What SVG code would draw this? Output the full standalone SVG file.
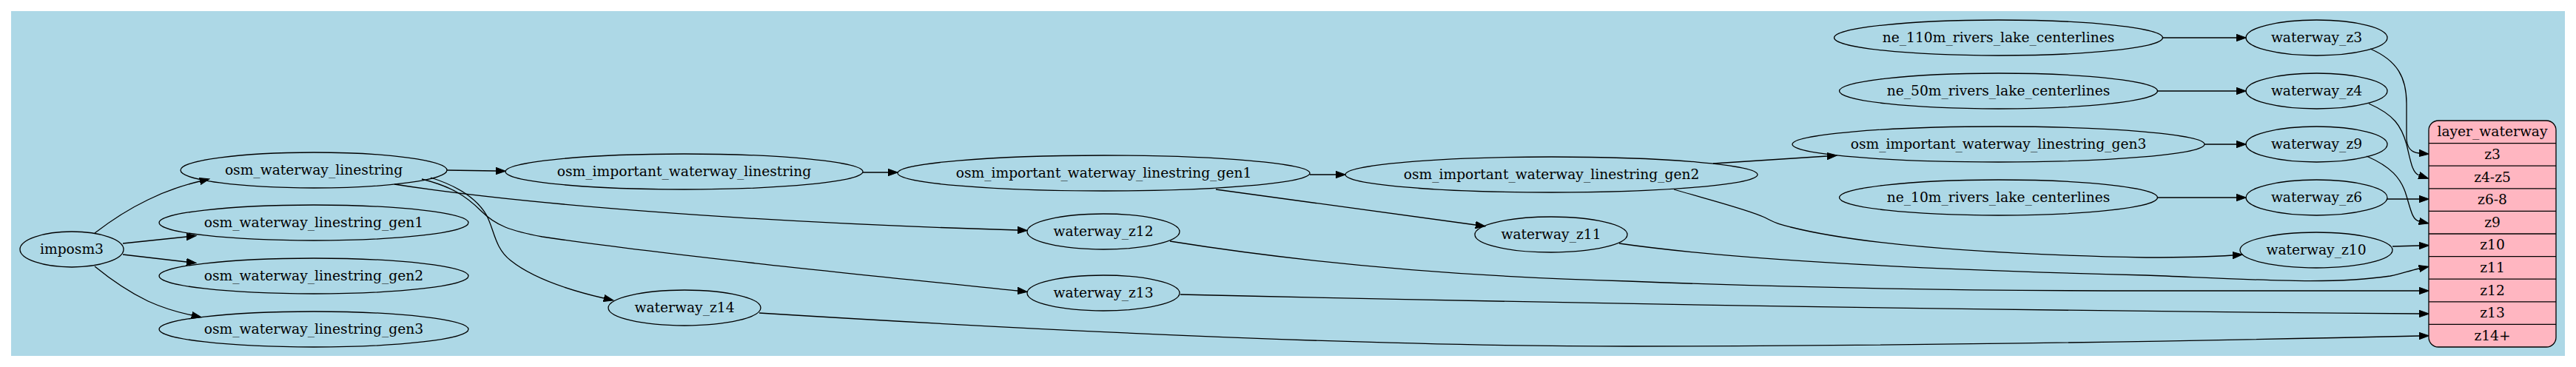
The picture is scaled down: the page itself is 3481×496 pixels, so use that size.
<svg xmlns="http://www.w3.org/2000/svg" width="3481" height="496" viewBox="0 0 3481 496">
<defs>
<style>
.n ellipse{fill:none;stroke:#000;stroke-width:1.3}
text{font-family:"DejaVu Serif","Liberation Serif",serif;font-size:18.67px;fill:#000;text-anchor:middle}
.e path{fill:none;stroke:#000;stroke-width:1.3;marker-end:url(#ah)}
.rec{fill:#ffb6c1;stroke:#000;stroke-width:1.3}
.div{stroke:#000;stroke-width:1.3}
</style>
<marker id="ah" viewBox="0 0 14 10" refX="0" refY="5" markerWidth="14" markerHeight="10" markerUnits="userSpaceOnUse" orient="auto">
<path d="M0,0.3 L13.3,5 L0,9.7 Z" fill="#000" stroke="#000" stroke-width="1"/>
</marker>
</defs>
<rect x="0" y="0" width="3481" height="496" fill="#fff"/>
<rect x="15" y="15" width="3451" height="466" fill="#add8e6"/>

<g id="edges" class="e">
<path d="M128,315 C150,298 175,282 200,270 C222,259 245,251 270,245"/>
<path d="M166,329 L252,320"/>
<path d="M166,344 L252,354"/>
<path d="M128,360 C150,378 175,395 200,407 C222,417 240,422 259,426"/>
<path d="M604,230 L670,231"/>
<path d="M533,249 C700,275 1000,300 1375,311"/>
<path d="M570,242 C610,252 630,265 650,285 C670,305 690,312 733,320 C900,345 1200,375 1375,393"/>
<path d="M582,240 C620,252 645,270 657,290 C668,310 668,335 690,352 C715,372 760,390 816,403"/>
<path d="M1166,233 L1200,233"/>
<path d="M1770,236 L1805,236"/>
<path d="M1643,256 L1994,304"/>
<path d="M2315,221 L2469,211"/>
<path d="M2262,256 C2310,270 2365,284 2385,294 C2400,302 2405,303 2420,307 C2480,322 2600,342 2900,348 C2950,348 2990,347 3017,345"/>
<path d="M2188,329 C2300,345 2500,362 2900,372 C3050,378 3150,385 3230,373 C3245,370 3255,366 3269,363"/>
<path d="M1581,326 C1700,345 1900,372 2200,380 C2450,390 2700,393 2900,393 L3269,393"/>
<path d="M1595,398 C1900,405 2500,418 3269,424"/>
<path d="M1026,423 C1300,440 1800,468 2200,468 C2600,468 3000,460 3269,454"/>
<path d="M2922,51 L3022,51"/>
<path d="M2916,123 L3022,123"/>
<path d="M2979,195 L3022,195"/>
<path d="M2916,267 L3022,267"/>
<path d="M3203,66 C3240,82 3252,105 3252,140 L3252,185 C3252,200 3258,206 3269,207"/>
<path d="M3201,140 C3235,155 3245,170 3252,195 C3258,220 3260,234 3269,237"/>
<path d="M3198,211 C3230,225 3245,240 3252,265 C3258,285 3260,297 3269,299"/>
<path d="M3226,269 L3269,269"/>
<path d="M3233,333 L3269,332"/>
</g>

<g id="imposm3" class="n"><ellipse cx="97" cy="337" rx="70" ry="24"/><text x="97" y="343">imposm3</text></g>
<g id="osm_waterway_linestring" class="n"><ellipse cx="424" cy="230" rx="180" ry="24"/><text x="424" y="236">osm_waterway_linestring</text></g>
<g id="osm_waterway_linestring_gen1" class="n"><ellipse cx="424" cy="301" rx="209" ry="24"/><text x="424" y="307">osm_waterway_linestring_gen1</text></g>
<g id="osm_waterway_linestring_gen2" class="n"><ellipse cx="424" cy="373" rx="209" ry="24"/><text x="424" y="379">osm_waterway_linestring_gen2</text></g>
<g id="osm_waterway_linestring_gen3" class="n"><ellipse cx="424" cy="445" rx="209" ry="24"/><text x="424" y="451">osm_waterway_linestring_gen3</text></g>
<g id="osm_important_waterway_linestring" class="n"><ellipse cx="924.5" cy="232" rx="241.5" ry="24"/><text x="924.5" y="238">osm_important_waterway_linestring</text></g>
<g id="osm_important_waterway_linestring_gen1" class="n"><ellipse cx="1491.5" cy="234" rx="278.5" ry="24"/><text x="1491.5" y="240">osm_important_waterway_linestring_gen1</text></g>
<g id="osm_important_waterway_linestring_gen2" class="n"><ellipse cx="2096.5" cy="236" rx="278.5" ry="24"/><text x="2096.5" y="242">osm_important_waterway_linestring_gen2</text></g>
<g id="osm_important_waterway_linestring_gen3" class="n"><ellipse cx="2700.5" cy="195" rx="278.5" ry="24"/><text x="2700.5" y="201">osm_important_waterway_linestring_gen3</text></g>
<g id="ne_110m_rivers_lake_centerlines" class="n"><ellipse cx="2700.5" cy="51" rx="222" ry="24"/><text x="2700.5" y="57">ne_110m_rivers_lake_centerlines</text></g>
<g id="ne_50m_rivers_lake_centerlines" class="n"><ellipse cx="2700.5" cy="123" rx="215" ry="24"/><text x="2700.5" y="129">ne_50m_rivers_lake_centerlines</text></g>
<g id="ne_10m_rivers_lake_centerlines" class="n"><ellipse cx="2700.5" cy="267" rx="215" ry="24"/><text x="2700.5" y="273">ne_10m_rivers_lake_centerlines</text></g>
<g id="waterway_z3" class="n"><ellipse cx="3130.5" cy="51" rx="95.5" ry="24"/><text x="3130.5" y="57">waterway_z3</text></g>
<g id="waterway_z4" class="n"><ellipse cx="3130.5" cy="123" rx="95.5" ry="24"/><text x="3130.5" y="129">waterway_z4</text></g>
<g id="waterway_z9" class="n"><ellipse cx="3130.5" cy="195" rx="95.5" ry="24"/><text x="3130.5" y="201">waterway_z9</text></g>
<g id="waterway_z6" class="n"><ellipse cx="3130.5" cy="267" rx="95.5" ry="24"/><text x="3130.5" y="273">waterway_z6</text></g>
<g id="waterway_z10" class="n"><ellipse cx="3130" cy="338" rx="103" ry="24"/><text x="3130" y="344">waterway_z10</text></g>
<g id="waterway_z11" class="n"><ellipse cx="2096" cy="317" rx="103" ry="24"/><text x="2096" y="323">waterway_z11</text></g>
<g id="waterway_z12" class="n"><ellipse cx="1491" cy="313" rx="103" ry="24"/><text x="1491" y="319">waterway_z12</text></g>
<g id="waterway_z13" class="n"><ellipse cx="1491" cy="396" rx="103" ry="24"/><text x="1491" y="402">waterway_z13</text></g>
<g id="waterway_z14" class="n"><ellipse cx="925" cy="416" rx="103" ry="24"/><text x="925" y="422">waterway_z14</text></g>

<g id="layer_waterway">
<rect class="rec" x="3282" y="163" width="172" height="306" rx="13" ry="13"/>
<line class="div" x1="3282" y1="193.6" x2="3454" y2="193.6"/>
<line class="div" x1="3282" y1="224.2" x2="3454" y2="224.2"/>
<line class="div" x1="3282" y1="254.8" x2="3454" y2="254.8"/>
<line class="div" x1="3282" y1="285.4" x2="3454" y2="285.4"/>
<line class="div" x1="3282" y1="316" x2="3454" y2="316"/>
<line class="div" x1="3282" y1="346.6" x2="3454" y2="346.6"/>
<line class="div" x1="3282" y1="377.2" x2="3454" y2="377.2"/>
<line class="div" x1="3282" y1="407.8" x2="3454" y2="407.8"/>
<line class="div" x1="3282" y1="438.4" x2="3454" y2="438.4"/>
<text x="3368" y="184.3">layer_waterway</text>
<text x="3368" y="214.9">z3</text>
<text x="3368" y="245.5">z4-z5</text>
<text x="3368" y="276.1">z6-8</text>
<text x="3368" y="306.7">z9</text>
<text x="3368" y="337.3">z10</text>
<text x="3368" y="367.9">z11</text>
<text x="3368" y="398.5">z12</text>
<text x="3368" y="429.1">z13</text>
<text x="3368" y="459.7">z14+</text>
</g>
</svg>
